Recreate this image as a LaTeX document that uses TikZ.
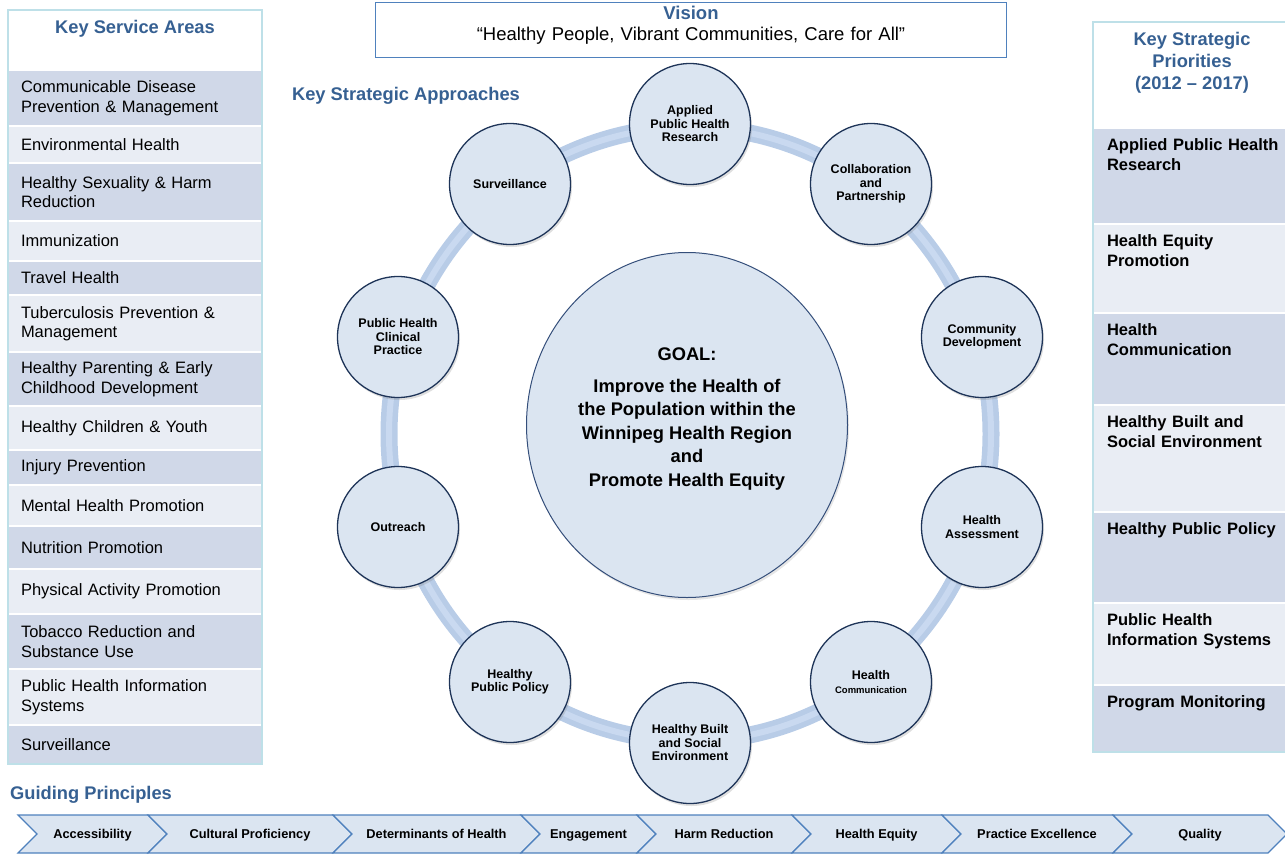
\documentclass[tikz,border=0pt]{standalone}
\usepackage{fontspec}
\setmainfont{Liberation Sans}
\usetikzlibrary{shapes.geometric,shadows}

\definecolor{hdblue}{RGB}{54,96,146}
\definecolor{rowdark}{RGB}{208,216,232}
\definecolor{rowlight}{RGB}{233,237,244}
\definecolor{tabedge}{RGB}{190,224,232}
\definecolor{bubfill}{RGB}{219,229,241}
\definecolor{bubline}{RGB}{30,52,88}
\definecolor{goalline}{RGB}{52,78,122}
\definecolor{ringblue}{RGB}{184,204,231}
\definecolor{ringlight}{RGB}{201,217,240}
\definecolor{chevline}{RGB}{79,129,189}

\tikzset{
  hdtext/.style={text=hdblue, font=\fontsize{18.3}{22}\selectfont\bfseries, align=center, inner sep=0},
  ksarow/.style={draw=white, line width=1.5, outer sep=0, anchor=north west, text width=228, inner xsep=13, inner ysep=0, align=left, font=\fontsize{16.5}{19.5}\selectfont},
  prirow/.style={draw=white, line width=1.5, outer sep=0, anchor=north west, text width=180, inner xsep=14, inner ysep=9, text height=13, text depth=#1-31, align=left, font=\fontsize{16.5}{20}\selectfont\bfseries},
  appr/.style={circle, draw=bubline, line width=1.3, fill=bubfill, minimum size=121, inner sep=0, align=center, font=\fontsize{12.5}{13.5}\selectfont\bfseries, drop shadow={shadow xshift=1.5pt, shadow yshift=-2.5pt, opacity=0.25}},
  chev/.style={fill=bubfill, draw=chevline, line width=1.2, line join=miter},
  chevtext/.style={font=\fontsize{12.8}{14}\selectfont\bfseries, inner sep=0, text height=9.2, text depth=0}
}

\begin{document}
\begin{tikzpicture}[x=1pt, y=-1pt]
\useasboundingbox (0,0) rectangle (1285,854);

% Key service areas
\node[hdtext] (ksatitle) at (135,29) {Key Service Areas};
\node[ksarow, fill=rowdark, minimum height=56] (ksa1) at (8,70) {Communicable Disease\\Prevention \& Management};
\node[ksarow, fill=rowlight, minimum height=37] (ksa2) at (ksa1.south west) {Environmental Health};
\node[ksarow, fill=rowdark, minimum height=58] (ksa3) at (ksa2.south west) {Healthy Sexuality \& Harm\\Reduction};
\node[ksarow, fill=rowlight, minimum height=40] (ksa4) at (ksa3.south west) {Immunization};
\node[ksarow, fill=rowdark, minimum height=34] (ksa5) at (ksa4.south west) {Travel Health};
\node[ksarow, fill=rowlight, minimum height=57] (ksa6) at (ksa5.south west) {Tuberculosis Prevention \&\\Management};
\node[ksarow, fill=rowdark, minimum height=54] (ksa7) at (ksa6.south west) {Healthy Parenting \& Early\\Childhood Development};
\node[ksarow, fill=rowlight, minimum height=44] (ksa8) at (ksa7.south west) {Healthy Children \& Youth};
\node[ksarow, fill=rowdark, minimum height=35] (ksa9) at (ksa8.south west) {Injury Prevention};
\node[ksarow, fill=rowlight, minimum height=41] (ksa10) at (ksa9.south west) {Mental Health Promotion};
\node[ksarow, fill=rowdark, minimum height=43] (ksa11) at (ksa10.south west) {Nutrition Promotion};
\node[ksarow, fill=rowlight, minimum height=45] (ksa12) at (ksa11.south west) {Physical Activity Promotion};
\node[ksarow, fill=rowdark, minimum height=55] (ksa13) at (ksa12.south west) {Tobacco Reduction and\\Substance Use};
\node[ksarow, fill=rowlight, minimum height=56] (ksa14) at (ksa13.south west) {Public Health Information\\Systems};
\node[ksarow, fill=rowdark, minimum height=39] (ksa15) at (ksa14.south west) {Surveillance};
\draw[tabedge, line width=2] (8,10) rectangle (ksa15.south east);

% Key strategic priorities
\node[hdtext] (ksptitle) at (1192,63) {Key Strategic\\Priorities\\(2012 -- 2017)};
\node[prirow=96, fill=rowdark] (ksp1) at (1093,128) {Applied Public Health\\Research};
\node[prirow=89, fill=rowlight] (ksp2) at (ksp1.south west) {Health Equity\\Promotion};
\node[prirow=92, fill=rowdark] (ksp3) at (ksp2.south west) {Health\\Communication};
\node[prirow=107, fill=rowlight] (ksp4) at (ksp3.south west) {Healthy Built and\\Social Environment};
\node[prirow=91, fill=rowdark] (ksp5) at (ksp4.south west) {Healthy Public Policy};
\node[prirow=82, fill=rowlight] (ksp6) at (ksp5.south west) {Public Health\\Information Systems};
\node[prirow=67, fill=rowdark] (ksp7) at (ksp6.south west) {Program Monitoring};
\draw[tabedge, line width=2] (1093,22) rectangle (1300,752);

% Vision
\node[draw=chevline, line width=1.2, anchor=north, text width=611, inner xsep=10, inner ysep=4, text height=13, text depth=34, align=center, font=\fontsize{18.5}{21}\selectfont] (vision) at (691,2) {\textcolor{hdblue}{\bfseries Vision}\\“Healthy People, Vibrant Communities, Care for All”};

% Key strategic approaches
\node[hdtext] (ksatext) at (406,96) {Key Strategic Approaches};
\draw[ringblue, line width=17] (690,434) ellipse [x radius=301, y radius=307];
\draw[ringlight, line width=6] (690,434) ellipse [x radius=301, y radius=307];

\node[ellipse, draw=goalline, line width=1, fill=bubfill, minimum width=321, minimum height=345, inner sep=0, align=center, font=\fontsize{18.3}{23.5}\selectfont\bfseries, drop shadow={shadow xshift=1.5pt, shadow yshift=-2.5pt, opacity=0.2}] (goal) at (687,425) {GOAL:\\[8.5pt]Improve the Health of\\the Population within the\\Winnipeg Health Region\\and\\Promote Health Equity\\[-7pt]\mbox{}};

\node[appr] (aphr) at (690,124) {Applied\\Public Health\\Research};
\node[appr] (collab) at (871,184) {Collaboration\\and\\Partnership};
\node[appr] (commdev) at (982,337) {Community\\Development};
\node[appr] (hassess) at (982,527) {Health\\Assessment};
\node[appr] (hcomm) at (871,682) {Health\\{\fontsize{9.5}{11}\selectfont Communication}};
\node[appr] (hbuilt) at (690,743) {Healthy Built\\and Social\\Environment};
\node[appr] (hpp) at (510,682) {Healthy\\Public Policy};
\node[appr] (outreach) at (398,527) {Outreach};
\node[appr] (phcp) at (398,337) {Public Health\\Clinical\\Practice};
\node[appr] (surv) at (510,184) {Surveillance};

% Guiding principles
\node[hdtext, anchor=west] (gptitle) at (10,795) {Guiding Principles};
\foreach \xa/\xb/\gp [count=\i] in {18/148/Accessibility, 148/333/Cultural Proficiency, 333/521/Determinants of Health, 521/637/Engagement, 637/792/Harm Reduction, 792/942/Health Equity, 942/1113/Practice Excellence, 1113/1268/Quality}
{
  \draw[chev] (\xa,815) -- (\xb,815) -- (\xb+19,834) -- (\xb,853) -- (\xa,853) -- (\xa+19,834) -- cycle;
  \node[chevtext] (gp\i) at ({(\xa+\xb)/2+9.5},834) {\gp};
}
\end{tikzpicture}
\end{document}
